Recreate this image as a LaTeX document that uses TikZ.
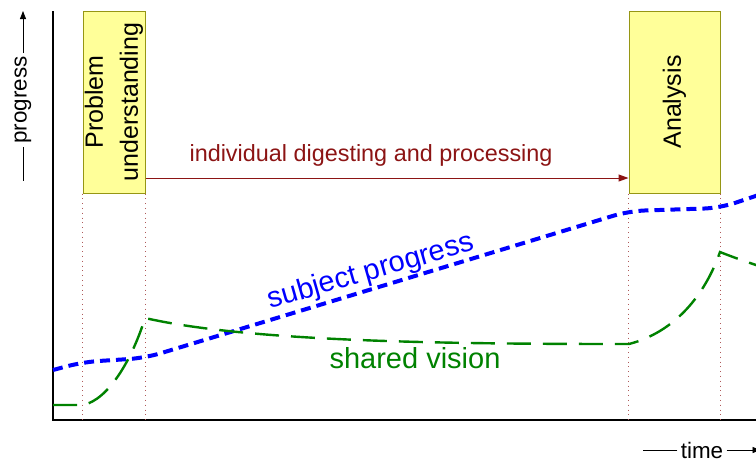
\documentclass[tikz,border=0pt]{standalone}
\usepackage{fontspec}
\setmainfont{Liberation Sans}
\usetikzlibrary{arrows.meta,positioning}
\definecolor{phasefill}{RGB}{255,255,153}
\definecolor{phaseline}{RGB}{150,150,20}
\definecolor{digestred}{RGB}{140,20,20}
\definecolor{visiongreen}{RGB}{0,130,0}

\begin{document}
\begin{tikzpicture}[
  x=0.5pt,y=-0.5pt,
  phasebox/.style={draw=phaseline,fill=phasefill,line width=0.5pt,minimum width=31pt,minimum height=91pt,inner sep=0pt,font=\fontsize{12.5}{17.5}\selectfont},
  marker/.style={draw=digestred!70,dotted,line width=0.4pt},
  axis/.style={line width=1.2pt},
  lab/.style={inner sep=1.5pt,font=\fontsize{11.2}{13}\selectfont},
  tip/.style={-{Triangle[length=4pt,width=3pt]}},
  arr/.style={-{Triangle[length=5pt,width=3.5pt]},draw=digestred,line width=0.5pt},
  progline/.style={blue,line width=2pt,dash pattern=on 5pt off 3pt},
  visionline/.style={visiongreen,line width=1.2pt,dash pattern=on 12pt off 6pt}
]
\useasboundingbox (0,0) rectangle (756,462);
\clip (0,0) rectangle (756,462);

% axes
\coordinate (ytop) at (53,11);
\coordinate (origin) at (53,420);
\coordinate (xend) at (780,420);
\draw[axis] (ytop) -- (origin) -- (xend);

\node[lab,rotate=90] (ylab) at (23,100) {progress};
\draw (ylab.west) -- ++(0,34);
\draw[tip] (ylab.east) -- ++(0,-42);
\node[lab] (xlab) at (702,450) {time};
\draw (xlab.west) -- ++(-34,0);
\draw[tip] (xlab.east) -- ++(34,0);

% phases
\node[phasebox] (understand) at (114,102) {\rotatebox{90}{\parbox{85pt}{\centering Problem\\understanding}}};
\node[phasebox,minimum width=45.5pt] (analysis) at (674.5,102) {\rotatebox{90}{Analysis}};

\draw[marker] (understand.south west) -- (understand.south west |- origin);
\draw[marker] (understand.south east) -- (understand.south east |- origin);
\draw[marker] (analysis.south west) -- (analysis.south west |- origin);
\draw[marker] (analysis.south east) -- (analysis.south east |- origin);

\coordinate (digstart) at (understand.east |- 0,178);
\coordinate (digend) at (analysis.west |- 0,178);
\draw[arr] (digstart) -- (digend)
  node[pos=0.467,above=2pt,text=digestred,font=\fontsize{11.7}{14}\selectfont] (digest) {individual digesting and processing};

% curves
\draw[progline,rounded corners=8pt] (53,370) -- (83,362) -- (145,358) -- (629,211) -- (720,208) -- (800,181);
\draw[visionline] (53,405) -- (83,405)
  .. controls (108,400) and (132,360) .. (145,318)
  .. controls (250,342) and (450,344) .. (629,344)
  .. controls (675,332) and (705,295) .. (720,252)
  .. controls (735,258) and (755,265) .. (790,276);

\node[blue,rotate=16,font=\fontsize{14.5}{17}\selectfont] (subject) at (371,272) {subject progress};
\node[visiongreen,font=\fontsize{14.5}{17}\selectfont] (vision) at (415,358) {shared vision};
\end{tikzpicture}
\end{document}
